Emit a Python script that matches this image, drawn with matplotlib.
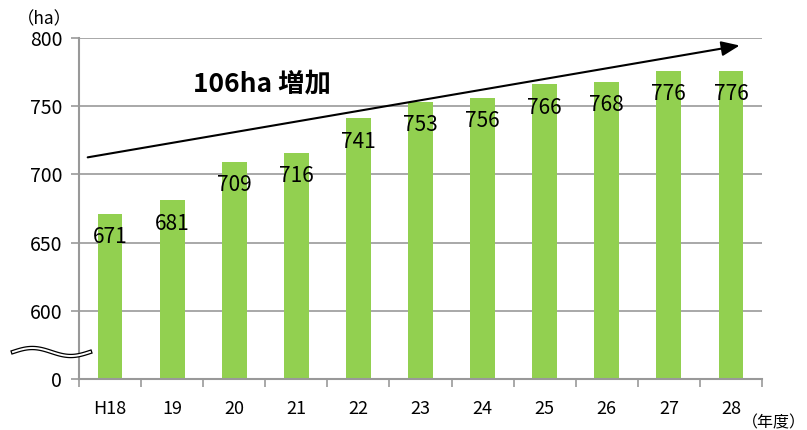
import matplotlib.pyplot as plt
import numpy as np

plt.rcParams['font.family'] = ['Noto Sans CJK JP', 'DejaVu Sans']

years = ["H18", "19", "20", "21", "22", "23", "24", "25", "26", "27", "28"]
area = [671, 681, 709, 716, 741, 753, 756, 766, 768, 776, 776]
tick_values = [0, 600, 650, 700, 750, 800]

# axis is broken between 0 and 600: the lower segment shows one 50ha step
offset = 550
bar_color = "#92D050"
grid_color = "#999999"

fig = plt.figure(figsize=(8.07, 4.30), dpi=100)
ax = fig.add_axes([79 / 807, 1 - 379 / 430, (762 - 79) / 807, (379 - 38) / 430])

x = np.arange(len(years))
heights = [v - offset for v in area]
ax.bar(x, heights, width=0.4, color=bar_color, zorder=2)

for xi, h, v in zip(x, heights, area):
    ax.text(xi, h - 17, str(v), ha="center", va="center", fontsize=15, zorder=3)

ax.set_xlim(-0.5, len(years) - 0.5)
ax.set_ylim(0, 250)

pos = [0 if t == 0 else t - offset for t in tick_values]
ax.set_yticks(pos)
ax.set_yticklabels([str(t) for t in tick_values], fontsize=14)
for p in pos[1:]:
    ax.axhline(p, color=grid_color, lw=1.2, zorder=1)

# categories sit between tick marks
ax.set_xticks(np.arange(-0.5, len(years), 1))
ax.set_xticklabels([])
ax.set_xticks(x, minor=True)
ax.set_xticklabels(years, minor=True, fontsize=13)
ax.tick_params(axis="x", which="minor", length=0, pad=15)
ax.tick_params(axis="x", which="major", length=6, color=grid_color, width=1.2)
ax.tick_params(axis="y", length=6, color=grid_color, width=1.2, pad=6)

for side in ["top", "right"]:
    ax.spines[side].set_visible(False)
for side in ["left", "bottom"]:
    ax.spines[side].set_color(grid_color)
    ax.spines[side].set_linewidth(1.5)

# trend arrow and note
ax.annotate("", xy=(10.14, 244.5), xytext=(-0.36, 162.5),
            arrowprops=dict(arrowstyle="-|>,head_length=1.1,head_width=0.45",
                            color="black", lw=1.5, shrinkA=0, shrinkB=0),
            zorder=4)
ax.text(2.45, 216, "106ha 増加", fontsize=19, fontweight="bold",
        ha="center", va="center", zorder=4)

# wavy break mark across the y axis
wx = np.linspace(13, 90, 100)
wy = 352 - 4 * np.sin((wx - 13) / 77 * 2 * np.pi)
fx = wx / 807
fy = 1 - wy / 430
fig.add_artist(plt.Line2D(fx, fy, color="black", lw=3.2, transform=fig.transFigure))
fig.add_artist(plt.Line2D(fx, fy, color="white", lw=1.4, transform=fig.transFigure))

fig.text(44 / 807, 1 - 19 / 430, "（ha）", fontsize=12.5, ha="center", va="center")
fig.text(806 / 807, 1 - 423 / 430, "（年度）", fontsize=11.5, ha="right", va="center")

fig.savefig("out.png", dpi=100)
